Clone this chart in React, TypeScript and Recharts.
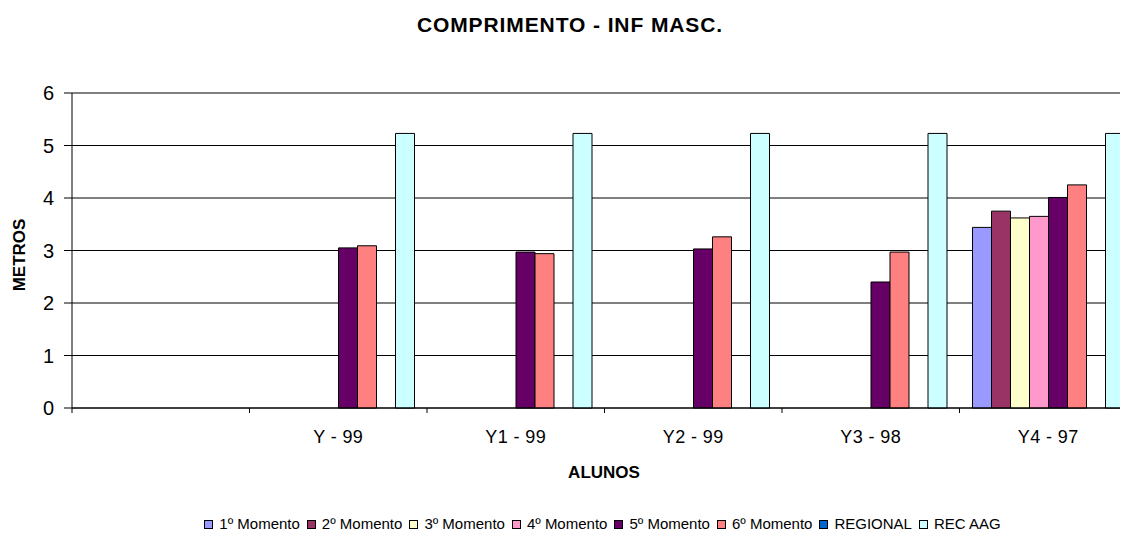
import { Bar, BarChart, CartesianGrid, XAxis, YAxis } from "recharts";

const categories = ["", "Y - 99", "Y1 - 99", "Y2 - 99", "Y3 - 98", "Y4 - 97"];

const momento1 = [null, null, null, null, null, 3.44];
const momento2 = [null, null, null, null, null, 3.75];
const momento3 = [null, null, null, null, null, 3.62];
const momento4 = [null, null, null, null, null, 3.65];
const momento5 = [null, 3.05, 2.97, 3.03, 2.4, 4.01];
const momento6 = [null, 3.09, 2.94, 3.26, 2.97, 4.25];
const regional = [null, null, null, null, null, null];
const recAag = [null, 5.23, 5.23, 5.23, 5.23, 5.23];

const yTicks = [0, 1, 2, 3, 4, 5, 6];

const series = [
  { key: "m1", name: "1º Momento", color: "#9999FF", values: momento1 },
  { key: "m2", name: "2º Momento", color: "#993366", values: momento2 },
  { key: "m3", name: "3º Momento", color: "#FFFFCC", values: momento3 },
  { key: "m4", name: "4º Momento", color: "#FF99CC", values: momento4 },
  { key: "m5", name: "5º Momento", color: "#660066", values: momento5 },
  { key: "m6", name: "6º Momento", color: "#FF8080", values: momento6 },
  { key: "reg", name: "REGIONAL", color: "#0066CC", values: regional },
  { key: "rec", name: "REC AAG", color: "#CCFFFF", values: recAag },
];

const data = categories.map((cat, i) => {
  const row: Record<string, string | number | null> = { cat };
  series.forEach((s) => {
    row[s.key] = s.values[i];
  });
  return row;
});

const font = "Arial, 'Liberation Sans', sans-serif";

// Excel-style tick: mark sits on the category boundary, label at the centre
function CategoryTick(props: any) {
  const { x, y, payload } = props;
  const half = payload?.offset ?? 88.75;
  return (
    <g>
      <line x1={x - half} x2={x - half} y1={y - 5} y2={y} stroke="#000" />
      <text
        x={x}
        y={y + 30}
        textAnchor="middle"
        fontSize={18}
        letterSpacing={0.4}
        fontFamily={font}
        fill="#000"
      >
        {payload.value}
      </text>
    </g>
  );
}

export default function App() {
  return (
    <div
      style={{
        position: "relative",
        width: 1128,
        height: 533,
        marginLeft: -8,
        marginTop: -8,
        overflow: "hidden",
        background: "#fff",
        fontFamily: font,
      }}
    >
      <div
        style={{
          position: "absolute",
          top: 13,
          left: 0,
          width: 1140,
          textAlign: "center",
          fontWeight: "bold",
          fontSize: 21,
          letterSpacing: 0.9,
        }}
      >
        COMPRIMENTO - INF MASC.
      </div>
      <BarChart
        width={1145}
        height={533}
        data={data}
        margin={{ top: 93, right: 8, left: 0, bottom: 0 }}
        barSize={19}
        barGap={0}
      >
        <CartesianGrid vertical={false} stroke="#000" />
        <XAxis
          dataKey="cat"
          height={125}
          axisLine={{ stroke: "#000" }}
          tickLine={false}
          tickSize={5}
          tickMargin={0}
          interval={0}
          tick={<CategoryTick />}
        />
        <YAxis
          width={72}
          domain={[0, 6]}
          ticks={yTicks}
          axisLine={{ stroke: "#000" }}
          tickLine={{ stroke: "#000" }}
          tickSize={8}
          tickMargin={10}
          tick={{ fontSize: 20, fill: "#000", fontFamily: font }}
        />
        {series.map((s) => (
          <Bar
            key={s.key}
            dataKey={s.key}
            name={s.name}
            fill={s.color}
            stroke="#000"
            strokeWidth={1}
            isAnimationActive={false}
          />
        ))}
      </BarChart>
      <div
        style={{
          position: "absolute",
          left: 604,
          top: 473,
          fontWeight: "bold",
          fontSize: 17,
          transform: "translate(-50%, -50%)",
        }}
      >
        ALUNOS
      </div>
      <div
        style={{
          position: "absolute",
          left: 20,
          top: 255,
          fontWeight: "bold",
          fontSize: 17,
          transform: "translate(-50%, -50%) rotate(-90deg)",
        }}
      >
        METROS
      </div>
      <div
        style={{
          position: "absolute",
          top: 515,
          left: 0,
          width: 1205,
          display: "flex",
          justifyContent: "center",
          fontSize: 15,
          lineHeight: "18px",
          gap: 7,
        }}
      >
        {series.map((s) => (
          <div key={s.key} style={{ display: "flex", alignItems: "center" }}>
            <span
              style={{
                display: "inline-block",
                width: 7,
                height: 7,
                background: s.color,
                border: "1px solid #000",
                marginRight: 6,
              }}
            />
            <span>{s.name}</span>
          </div>
        ))}
      </div>
    </div>
  );
}
